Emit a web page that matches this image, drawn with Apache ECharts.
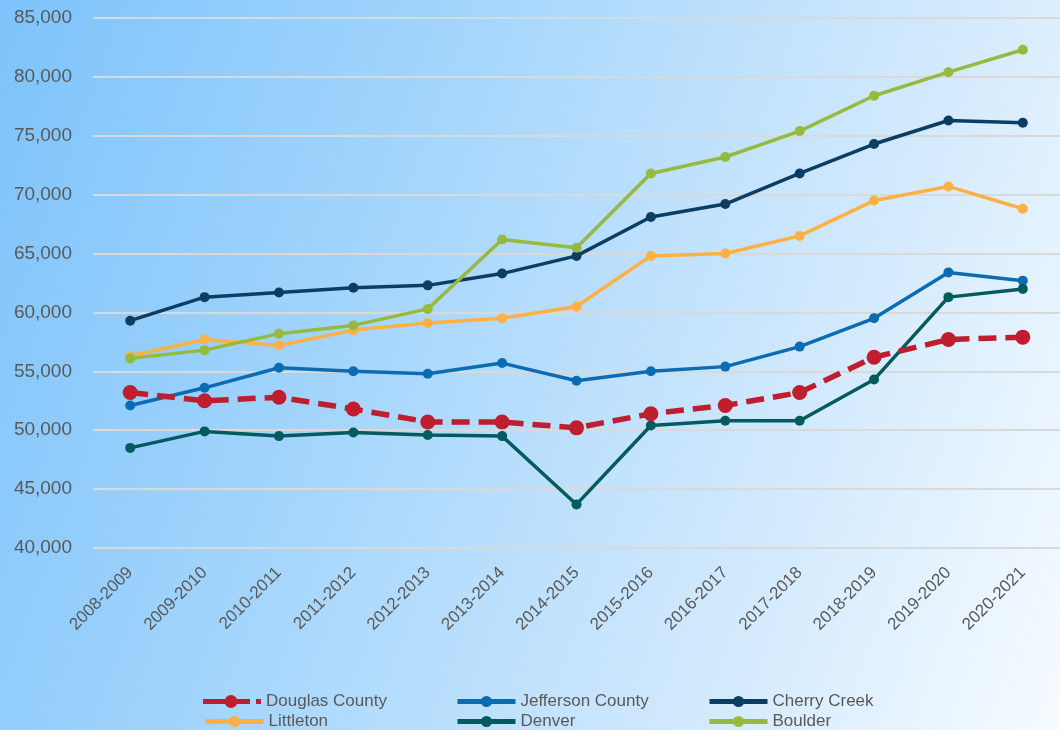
<!DOCTYPE html>
<html>
<head>
<meta charset="utf-8">
<script src="https://cdn.jsdelivr.net/npm/echarts@6/dist/echarts.min.js"></script>
<style>
  html, body { margin: 0; padding: 0; }
  #chart {
    width: 1060px; height: 730px;
    background: linear-gradient(110deg, #7dc3fb 0%, #a3d5fc 35%, #cfe8fd 70%, #f6fbff 100%);
  }
</style>
</head>
<body>
<div id="chart"></div>
<script>
// school years
const years = ['2008-2009', '2009-2010', '2010-2011', '2011-2012', '2012-2013', '2013-2014',
    '2014-2015', '2015-2016', '2016-2017', '2017-2018', '2018-2019', '2019-2020', '2020-2021'];

// average salary per district
const douglas = [53200, 52500, 52800, 51800, 50700, 50700, 50200, 51400, 52100, 53200, 56200, 57700, 57900];
const jefferson = [52100, 53600, 55300, 55000, 54800, 55700, 54200, 55000, 55400, 57100, 59500, 63400, 62700];
const cherryCreek = [59300, 61300, 61700, 62100, 62300, 63300, 64800, 68100, 69200, 71800, 74300, 76300, 76100];
const littleton = [56300, 57700, 57200, 58500, 59100, 59500, 60500, 64800, 65000, 66500, 69500, 70700, 68800];
const denver = [48500, 49900, 49500, 49800, 49600, 49500, 43700, 50400, 50800, 50800, 54300, 61300, 62000];
const boulder = [56100, 56800, 58200, 58900, 60300, 66200, 65500, 71800, 73200, 75400, 78400, 80400, 82300];

const textColor = '#595959';
const font = 'Liberation Sans';
const chart = echarts.init(document.getElementById('chart'));

// normal series helper
const line = (name, data, color) => ({
    name,
    type: 'line',
    data,
    symbol: 'circle',
    symbolSize: 10,
    lineStyle: { color, width: 3.5 },
    itemStyle: { color },
    emphasis: { disabled: true },
    z: 2
});

// one legend per entry so the columns line up
const legendItem = (name, left, top, extra) => Object.assign({
    data: [name],
    left,
    top,
    padding: 0,
    itemWidth: 58,
    itemHeight: 14,
    itemGap: 0,
    lineStyle: { width: 5 },
    textStyle: { color: textColor, fontSize: 17, fontFamily: font }
}, extra || {});

// dashed legend mark: long dash, dot, short dash
const douglasIcon = 'path://M0,4H47V9H0Z M53,4H58V9H53Z M21.5,6.5A6.5,6.5 0 1,1 34.5,6.5A6.5,6.5 0 1,1 21.5,6.5Z';

chart.setOption({
    backgroundColor: 'transparent',
    animation: false,
    grid: { left: 93, top: 18, width: 976, height: 530 },
    legend: [
        legendItem('Douglas County', 203, 693, {
            itemHeight: 13,
            icon: douglasIcon,
            itemStyle: { color: '#be1e2d', borderWidth: 0 },
            lineStyle: { width: 0, type: 'solid' }
        }),
        legendItem('Jefferson County', 455, 693),
        legendItem('Cherry Creek', 707, 693),
        legendItem('Littleton', 203, 713),
        legendItem('Denver', 455, 713),
        legendItem('Boulder', 707, 713)
    ],
    xAxis: {
        type: 'category',
        data: years,
        boundaryGap: true,
        axisLine: { show: false },
        axisTick: { show: false },
        axisLabel: {
            color: textColor,
            fontSize: 17,
            fontFamily: font,
            rotate: 45,
            margin: 22,
            interval: 0
        }
    },
    yAxis: {
        type: 'value',
        min: 40000,
        max: 85000,
        interval: 5000,
        axisLine: { show: false },
        axisTick: { show: false },
        axisLabel: {
            color: textColor,
            fontSize: 19,
            fontFamily: font,
            margin: 21,
            formatter: v => v.toLocaleString('en-US')
        },
        splitLine: { lineStyle: { color: '#d9d9d9', width: 2 } }
    },
    series: [
        {
            name: 'Douglas County',
            type: 'line',
            data: douglas,
            symbol: 'circle',
            symbolSize: 15,
            lineStyle: { color: '#be1e2d', width: 5.5, type: [18, 9] },
            itemStyle: { color: '#be1e2d' },
            emphasis: { disabled: true },
            z: 3
        },
        line('Jefferson County', jefferson, '#0b6cb3'),
        line('Cherry Creek', cherryCreek, '#0c3d63'),
        line('Littleton', littleton, '#fdb144'),
        line('Denver', denver, '#035b5d'),
        line('Boulder', boulder, '#95ba3d')
    ]
});
</script>
</body>
</html>
